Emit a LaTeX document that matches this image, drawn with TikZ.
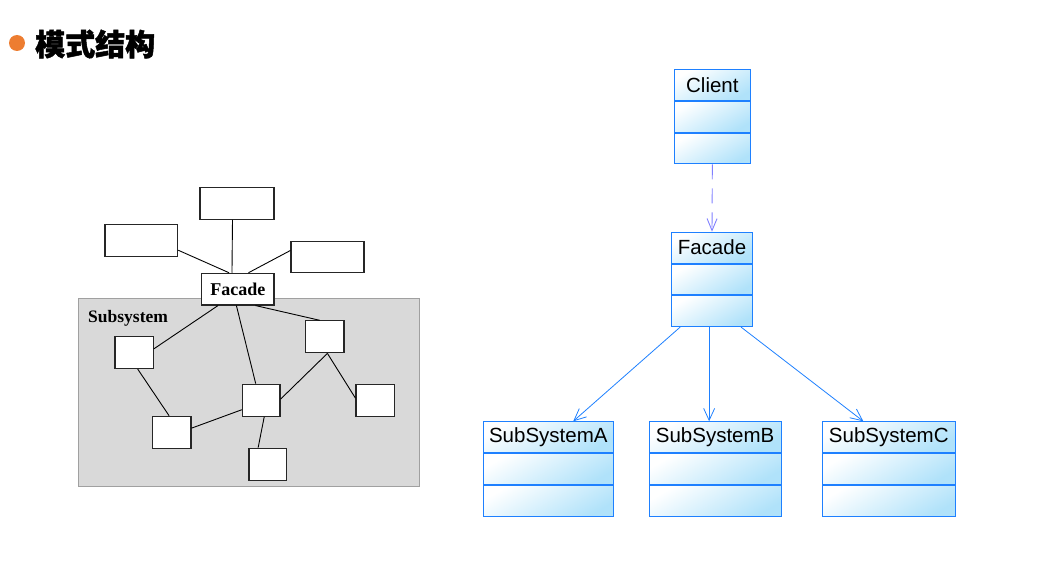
\documentclass[tikz,border=0pt]{standalone}
\usepackage{fontspec}
\setmainfont{Liberation Serif}
\newfontfamily\arial{Liberation Sans}
\newfontfamily\cjk{Noto Sans CJK SC}[BoldFeatures={FakeBold=1.6}]
\usetikzlibrary{arrows.meta,calc}
\definecolor{umlblue}{RGB}{30,128,255}
\definecolor{umlfill}{RGB}{176,226,250}
\definecolor{dashblue}{RGB}{128,128,255}
\definecolor{dotorange}{RGB}{237,125,49}
\definecolor{subgray}{RGB}{217,217,217}
\definecolor{subedge}{RGB}{160,160,160}
\tikzset{
  box/.style={draw=black!85, line width=1.1pt, fill=white, inner sep=0pt, minimum height=32pt},
  link/.style={draw=black, line width=0.9pt},
  part/.style={draw=umlblue, line width=1pt, top color=white, bottom color=umlfill, shading angle=30,
    inner sep=0pt, minimum height=30.8pt, font=\arial\fontsize{20.5}{22}\selectfont},
  uarrow/.style={draw=umlblue, line width=0.8pt, -{Straight Barb[length=12pt,width=11pt]}},
  darrow/.style={draw=dashblue, line width=0.9pt, dash pattern=on 15pt off 9pt, -{Straight Barb[length=12pt,width=10pt]}}
}
\begin{document}
\begin{tikzpicture}[x=1pt,y=-1pt]
\useasboundingbox (0,0) rectangle (1045,567);
% title
\fill[dotorange] (17,43) circle (8);
\node[anchor=west, inner sep=0pt, font=\cjk\bfseries\fontsize{30}{32}\selectfont] (title) at (35,44) {模式结构};
% left diagram
\node[draw=subedge, fill=subgray, line width=1pt, minimum width=340.7pt, minimum height=188.4pt, inner sep=0pt] (subsys) at (248.65,392.5) {};
\node[anchor=base west, inner sep=0pt, font=\bfseries\fontsize{17.5}{19}\selectfont] (sublbl) at (88,322) {Subsystem};
\node[box, minimum width=74pt] (topb) at (237,203.3) {};
\node[box, minimum width=72.7pt] (lb) at (141.35,240.3) {};
\node[box, minimum width=73pt, minimum height=31pt] (rb) at (327.5,257.2) {};
\node[box, minimum width=72.3pt, minimum height=31.7pt, font=\bfseries\fontsize{18}{20}\selectfont] (fac) at (237.85,289.15) {Facade};
\node[box, minimum width=38.3pt] (s1) at (134.15,352.5) {};
\node[box, minimum width=38.3pt] (s2) at (324.85,336.85) {};
\node[box, minimum width=37.7pt] (s3) at (261.15,400.15) {};
\node[box, minimum width=38.3pt] (s4) at (171.85,432.3) {};
\node[box, minimum width=38.3pt] (s5) at (375.15,400.15) {};
\node[box, minimum width=37.7pt] (s6) at (267.85,464.15) {};
\draw[link] ($(topb.south west)!0.44!(topb.south east)$) -- ($(fac.north west)!0.42!(fac.north east)$);
\draw[link] ($(lb.north east)!0.8!(lb.south east)$) -- ($(fac.north west)!0.38!(fac.north east)$);
\draw[link] ($(rb.north west)!0.29!(rb.south west)$) -- ($(fac.north west)!0.645!(fac.north east)$);
\draw[link] ($(fac.south west)!0.23!(fac.south east)$) -- ($(s1.north east)!0.39!(s1.south east)$);
\draw[link] ($(fac.south west)!0.48!(fac.south east)$) -- ($(s3.north west)!0.36!(s3.north east)$);
\draw[link] ($(fac.south west)!0.74!(fac.south east)$) -- ($(s2.north west)!0.37!(s2.north east)$);
\draw[link] ($(s1.south west)!0.59!(s1.south east)$) -- ($(s4.north west)!0.43!(s4.north east)$);
\draw[link] ($(s4.north east)!0.375!(s4.south east)$) -- ($(s3.north west)!0.79!(s3.south west)$);
\draw[link] ($(s3.north east)!0.47!(s3.south east)$) -- ($(s2.south west)!0.565!(s2.south east)$);
\draw[link] ($(s2.south west)!0.565!(s2.south east)$) -- ($(s5.north west)!0.44!(s5.south west)$);
\draw[link] ($(s3.south west)!0.58!(s3.south east)$) -- ($(s6.north west)!0.25!(s6.north east)$);
% right diagram
\node[part, minimum width=76.7pt, anchor=north] (client) at (712.35,69) {Client};
\node[part, minimum width=76.7pt, anchor=north] (client2) at (client.south) {};
\node[part, minimum width=76.7pt, anchor=north] (client3) at (client2.south) {};
\node[part, minimum width=80.6pt, anchor=north] (facade) at (712,231.7) {Facade};
\node[part, minimum width=80.6pt, anchor=north] (facade2) at (facade.south) {};
\node[part, minimum width=80.6pt, anchor=north] (facade3) at (facade2.south) {};
\node[part, minimum width=130pt, anchor=north] (suba) at (548.3,421.3) {SubSystemA};
\node[part, minimum width=130pt, anchor=north] (suba2) at (suba.south) {};
\node[part, minimum width=130pt, anchor=north] (suba3) at (suba2.south) {};
\node[part, minimum width=131.7pt, anchor=north] (subb) at (715.15,421.3) {SubSystemB};
\node[part, minimum width=131.7pt, anchor=north] (subb2) at (subb.south) {};
\node[part, minimum width=131.7pt, anchor=north] (subb3) at (subb2.south) {};
\node[part, minimum width=133pt, anchor=north] (subc) at (888.8,421.3) {SubSystemC};
\node[part, minimum width=133pt, anchor=north] (subc2) at (subc.south) {};
\node[part, minimum width=133pt, anchor=north] (subc3) at (subc2.south) {};
\draw[darrow] (client3.south) -- (facade.north);
\draw[uarrow] ($(facade3.south west)!0.11!(facade3.south east)$) -- ($(suba.north west)!0.69!(suba.north east)$);
\coordinate (bstart) at ($(facade3.south west)!0.465!(facade3.south east)$);
\draw[uarrow] (bstart) -- (bstart |- subb.north);
\draw[uarrow] ($(facade3.south west)!0.856!(facade3.south east)$) -- ($(subc.north west)!0.31!(subc.north east)$);
\end{tikzpicture}
\end{document}
